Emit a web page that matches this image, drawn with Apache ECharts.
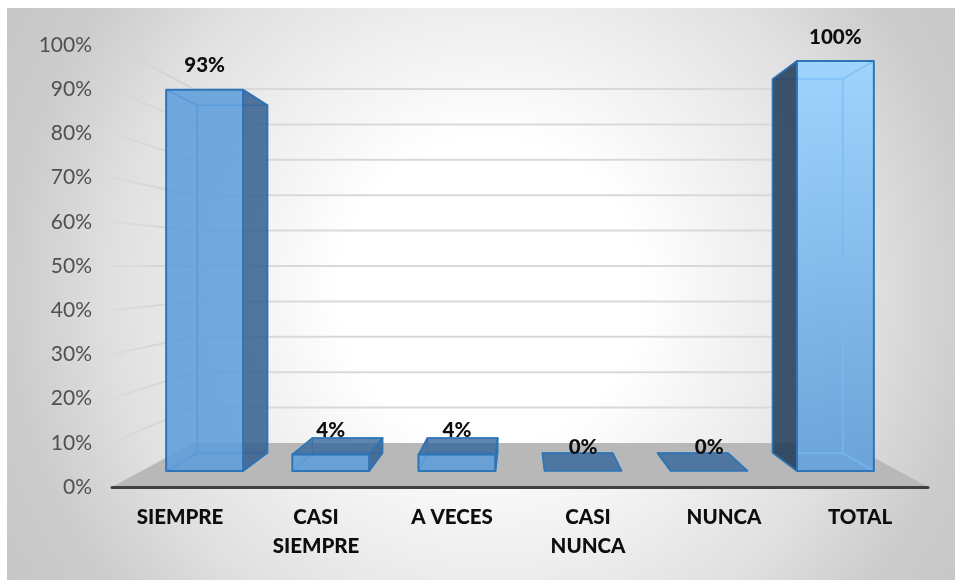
<!DOCTYPE html>
<html>
<head>
<meta charset="utf-8">
<style>html,body{margin:0;padding:0;background:#fff}#c{width:956px;height:580px}</style>
<script src="https://cdn.jsdelivr.net/npm/echarts@6/dist/echarts.min.js"></script>
</head>
<body>
<div id="c"></div>
<script>
const categories = ['SIEMPRE', 'CASI\nSIEMPRE', 'A VECES', 'CASI\nNUNCA', 'NUNCA', 'TOTAL'];
const percentages = [93, 4, 4, 0, 0, 100];
const axisTicks = [0, 10, 20, 30, 40, 50, 60, 70, 80, 90, 100];

// depth scales of the perspective box, relative to the plane of the axes
const WALL = 0.801, FRONT = 0.9276, BACK = 0.846, BAR_RATIO = 0.61;
const FONT = 'Lato, "Open Sans", sans-serif';
const BORDER = '#2e75b6';

function projector(params) {
  const g = params.coordSys;
  const cx = g.x + g.width / 2, cy = g.y + g.height / 2;
  return (p, s) => [cx + (p[0] - cx) * s, cy + (p[1] - cy) * s];
}

function renderWall(params, api) {
  const g = params.coordSys, project = projector(params);
  const v = api.value(0);
  const y = api.coord([0, v])[1];
  const l = [g.x, y], r = [g.x + g.width, y];
  const bl = project(l, WALL), br = project(r, WALL);
  if (v === 0) {
    return {
      type: 'polygon',
      shape: { points: [l, r, br, bl] },
      style: { fill: '#b8b8b8' }
    };
  }
  return {
    type: 'group',
    children: [
      { type: 'line', shape: { x1: l[0], y1: l[1], x2: bl[0], y2: bl[1] },
        style: { lineWidth: 2, stroke: { type: 'linear', global: true, x: l[0], y: 0, x2: bl[0], y2: 0, colorStops: [
          { offset: 0, color: 'rgba(212,212,212,0.35)' }, { offset: 1, color: 'rgba(208,208,208,1)' }] } } },
      { type: 'line', shape: { x1: bl[0], y1: bl[1], x2: br[0], y2: br[1] },
        style: { stroke: '#d9d9d9', lineWidth: 2 } }
    ]
  };
}

function renderBar(params, api) {
  const project = projector(params);
  const i = api.value(0), v = api.value(1);
  const isTotal = i === categories.length - 1;
  const cx = params.coordSys.x + params.coordSys.width / 2;
  const c0 = api.coord([i, 0]), c1 = api.coord([i, v]);
  const half = api.size([1, 0])[0] * BAR_RATIO / 2;
  const A = [c0[0] - half, c1[1]], B = [c0[0] + half, c1[1]];
  const C = [c0[0] + half, c0[1]], D = [c0[0] - half, c0[1]];
  const f = s => [A, B, C, D].map(p => project(p, s));
  const F = f(FRONT), K = f(BACK);
  const sideIdx = c0[0] < cx ? [1, 2] : [0, 3];
  const topVisible = K[0][1] < F[0][1];
  const children = [];
  const sideFill = isTotal ? 'rgba(30,55,85,0.85)' : 'rgba(50,95,145,0.85)';
  const inner = isTotal ? 'rgba(120,185,245,0.75)' : '#5b9bd8';
  const innerEdges = [{ type: 'polygon', shape: { points: K },
    style: { fill: 'none', stroke: inner, lineWidth: 1.6 } }];
  [0, 1, 2, 3].forEach(n => {
    innerEdges.push({ type: 'line', shape: { x1: F[n][0], y1: F[n][1], x2: K[n][0], y2: K[n][1] },
      style: { stroke: inner, lineWidth: 1.6 } });
  });
  if (topVisible) {
    children.push(...innerEdges);
    children.push({ type: 'polygon', shape: { points: [F[0], F[1], K[1], K[0]] },
      style: { fill: 'rgba(50,100,155,0.78)', stroke: BORDER, lineWidth: 1.6, lineJoin: 'round' } });
  }
  if (v > 0) {
    const fill = isTotal
      ? { type: 'linear', x: 0, y: 0, x2: 0.35, y2: 1, colorStops: [
          { offset: 0, color: '#9fd4fd' }, { offset: 1, color: '#6ca4d9' }] }
      : 'rgba(90,155,218,0.85)';
    children.push({ type: 'polygon', shape: { points: F }, style: { fill: fill } });
  }
  if (!topVisible) {
    children.push(...innerEdges);
  }
  if (v > 0) {
    children.push({ type: 'polygon', shape: { points: [F[sideIdx[0]], K[sideIdx[0]], K[sideIdx[1]], F[sideIdx[1]]] },
      style: { fill: sideFill, stroke: BORDER, lineWidth: 1.6, lineJoin: 'round' } });
    children.push({ type: 'polygon', shape: { points: F },
      style: { fill: 'none', stroke: BORDER, lineWidth: 2, lineJoin: 'round' } });
  }
  children.push({
    type: 'text',
    style: {
      text: v + '%', x: (F[0][0] + F[1][0]) / 2, y: F[0][1] - 24,
      align: 'center', verticalAlign: 'middle',
      font: '900 20.5px ' + FONT, fill: '#0d0d0d'
    },
    z2: 50
  });
  return { type: 'group', children };
}

const chart = echarts.init(document.getElementById('c'), null, { renderer: 'canvas' });
chart.setOption({
  animation: false,
  backgroundColor: '#ffffff',
  graphic: [{
    type: 'rect', z: -10, silent: true,
    shape: { x: 7, y: 8, width: 948, height: 572 },
    style: { fill: { type: 'radial', x: 490, y: 290, r: 600, global: true, colorStops: [
      { offset: 0, color: '#ffffff' },
      { offset: 0.25, color: '#ffffff' },
      { offset: 0.63, color: '#e0e0e0' },
      { offset: 0.8, color: '#cccccc' },
      { offset: 1, color: '#c4c4c4' }] } }
  }],
  grid: { left: 112, right: 28, top: 45, bottom: 93, containLabel: false },
  xAxis: {
    type: 'category', data: categories, z: 3,
    axisTick: { show: false },
    axisLine: { lineStyle: { color: '#404040', width: 3, cap: 'round' } },
    axisLabel: { interval: 0, margin: 16, color: '#0d0d0d', fontFamily: FONT, fontWeight: 900, fontSize: 20.5, lineHeight: 29 }
  },
  yAxis: {
    type: 'value', min: 0, max: 100, interval: 10,
    axisLine: { show: false }, axisTick: { show: false }, splitLine: { show: false },
    axisLabel: { formatter: '{value}%', margin: 20, color: '#505050', fontFamily: FONT, fontSize: 21 }
  },
  series: [
    { type: 'custom', name: 'walls', z: 1, silent: true, clip: false, renderItem: renderWall,
      data: axisTicks.map(t => [t]), encode: { y: 0 } },
    { type: 'custom', name: 'Porcentaje', z: 5, clip: false, renderItem: renderBar,
      data: percentages.map((p, i) => [i, p]), encode: { x: 0, y: 1 } }
  ]
});
</script>
</body>
</html>
